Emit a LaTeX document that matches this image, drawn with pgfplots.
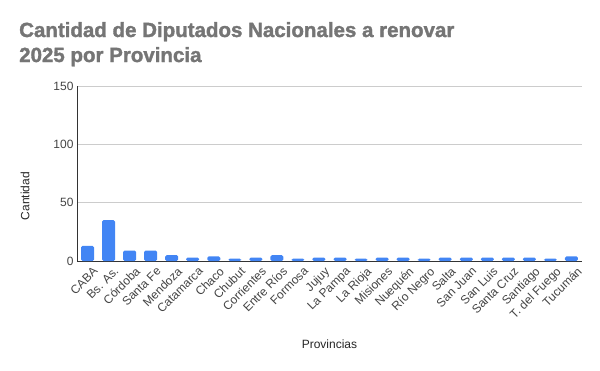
\documentclass[border=0pt]{standalone}
\usepackage{pgfplots}
\pgfplotsset{compat=1.18}
\usepackage{fontspec}
\setmainfont{Liberation Sans}
\newfontfamily\titlefont[FakeBold=1.6]{Liberation Sans Bold}
\definecolor{barblue}{HTML}{4285F4}
\definecolor{titlegray}{HTML}{757575}
\definecolor{ticktext}{HTML}{444444}
\definecolor{gridgray}{HTML}{CCCCCC}
\definecolor{basegray}{HTML}{333333}
\begin{document}
\begin{tikzpicture}
\path[use as bounding box] (0,0) rectangle (600bp,-371bp);
\node[anchor=base west, inner sep=0pt, text=titlegray, font=\titlefont\fontsize{20.5bp}{25bp}\selectfont] at (19bp,-37bp) {Cantidad de Diputados Nacionales a renovar};
\node[anchor=base west, inner sep=0pt, text=titlegray, font=\titlefont\fontsize{20.5bp}{25bp}\selectfont] at (19bp,-62bp) {2025 por Provincia};
\begin{axis}[
  at={(77bp,-261bp)}, anchor=south west,
  scale only axis, width=505bp, height=175bp,
  ybar, bar width=13bp,
  xmin=-0.5, xmax=23.5, ymin=0, ymax=150,
  ytick={0,50,100,150},
  xtick=data,
  xticklabels={CABA,Bs. As.,Córdoba,Santa Fe,Mendoza,Catamarca,Chaco,Chubut,Corrientes,Entre Ríos,Formosa,Jujuy,La Pampa,La Rioja,Misiones,Nuequén,Río Negro,Salta,San Juan,San Luis,Santa Cruz,Santiago,T. del Fuego,Tucumán},
  x tick label style={rotate=45, anchor=north east, font=\fontsize{12bp}{13bp}\selectfont, text=ticktext, inner sep=1bp, xshift=1bp, yshift=-6bp},
  y tick label style={font=\fontsize{12bp}{13bp}\selectfont, text=ticktext},
  /pgf/number format/assume math mode=true,
  major tick length=0pt,
  axis lines*=left,
  axis line style={draw=basegray, line width=1bp, -},
  ymajorgrids, grid style={draw=gridgray, line width=0.8bp},
  ylabel={Cantidad}, xlabel={Provincias},
  label style={font=\fontsize{12bp}{13bp}\selectfont, text=black!85},
  ylabel style={at={(axis description cs:0,0.37)}, anchor=south, yshift=44bp},
  xlabel style={at={(axis description cs:0.5,0)}, anchor=base, yshift=-87bp},
  clip=false,
]
\addplot[fill=barblue, draw=none, rounded corners=1.5bp] coordinates {
(0,13) (1,35) (2,9) (3,9) (4,5) (5,3) (6,4) (7,2) (8,3) (9,5) (10,2) (11,3)
(12,3) (13,2) (14,3) (15,3) (16,2) (17,3) (18,3) (19,3) (20,3) (21,3) (22,2) (23,4)
};
\end{axis}
\end{tikzpicture}
\end{document}
